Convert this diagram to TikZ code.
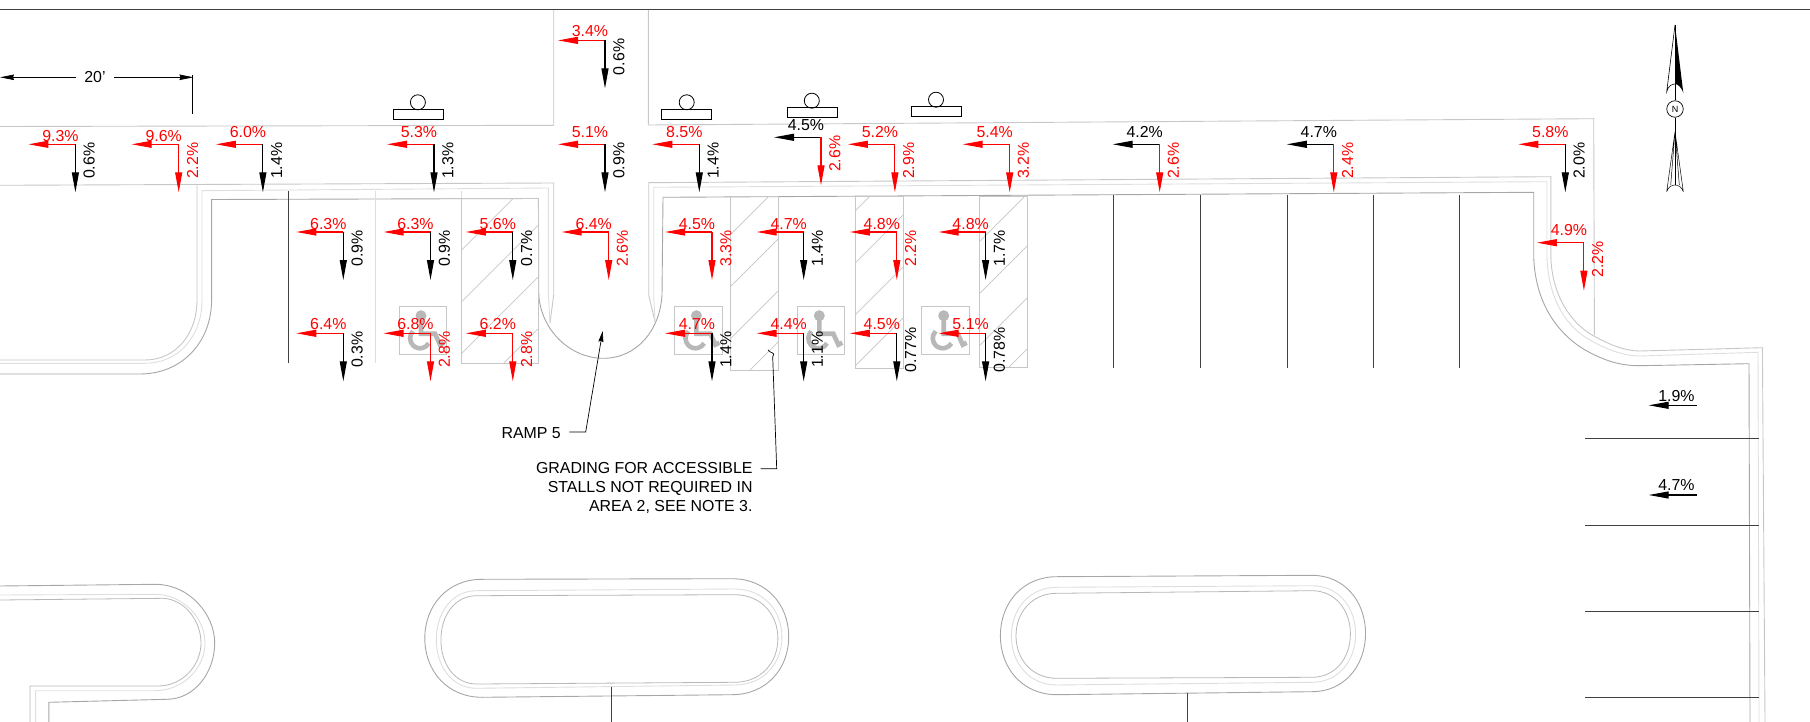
\documentclass[tikz,border=0pt]{standalone}
\usepackage{fontspec}
\setmainfont{Liberation Sans}
\usetikzlibrary{arrows.meta}

\newcommand{\slopemark}[8]{
  \coordinate (#8) at (#1,#2);
  \coordinate (#8h) at ({#1-47},#2);
  \coordinate (#8v) at (#1,{#2+48});
  \draw[slopearrow,#6] (#8) -- (#8h);
  \draw[slopearrow,#7] (#8) -- (#8v);
  \node[slopetext,text=#6] (#8a) at ({#1-15},{#2+#3}) {#4};
  \node[slopetext,text=#7,rotate=90] (#8b) at ({#1+13.8},{#2+16.5}) {#5};
}
\newcommand{\hatchstall}[5]{
  \begin{scope}
    \clip (#1,#2) rectangle (#3,#4);
    \foreach \cc in {#5} {\draw[hatchline] (#1,{\cc-#1}) -- (#3,{\cc-#3});}
  \end{scope}
  \draw[hatchline] (#1,#2) rectangle (#3,#4);
}
\newcommand{\islandline}[9]{
  \draw[#9] (#2,#5) -- (#3,#6)
    .. controls ({#3+0.6*(#4-#3)},#6) and (#4,{#6+0.22*(#8-#6)}) .. (#4,{(#6+#8)/2})
    .. controls (#4,{#8-0.22*(#8-#6)}) and ({#3+0.6*(#4-#3)},#8) .. (#3,#8)
    -- (#2,#7)
    .. controls ({#2-0.6*(#2-#1)},#7) and (#1,{#7-0.22*(#7-#5)}) .. (#1,{(#5+#7)/2})
    .. controls (#1,{#5+0.22*(#7-#5)}) and ({#2-0.6*(#2-#1)},#5) .. (#2,#5) -- cycle;
}

\begin{document}
\begin{tikzpicture}[x=1pt,y=-1pt,>={Stealth[length=20pt,width=7pt,inset=0pt]}]
\tikzstyle{slopearrow}=[->,line width=1.1pt]
\tikzstyle{slopetext}=[inner sep=0pt,font=\fontsize{15.9}{19}\selectfont]
\tikzstyle{plantext}=[inner sep=0pt,font=\fontsize{15.9}{19}\selectfont]
\tikzstyle{siteline}=[draw=black!22,line width=0.9pt]
\tikzstyle{curbdark}=[draw=black!35,line width=0.9pt]
\tikzstyle{curbthin}=[draw=black!28,line width=0.8pt]
\tikzstyle{curblight}=[draw=black!13,line width=0.9pt]
\tikzstyle{hatchline}=[draw=black!22,line width=0.7pt]
\tikzstyle{chairmark}=[draw=black!28,line width=4.6pt]
\tikzstyle{stallline}=[draw=black!75,line width=0.8pt]
\tikzstyle{leader}=[draw=black,line width=0.7pt]

\useasboundingbox (0,0) rectangle (1810,722);
\draw[draw=black!75,line width=1pt] (0,10) -- (1810,10);

\draw[siteline] (0,126.5) -- (553.7,125.3) -- (553.7,10);
\draw[siteline] (648.4,10) -- (648.4,125) -- (1593.7,118.7) -- (1594.4,335);

\draw[siteline] (0,360) -- (145,360) .. controls (175,360) and (197,335) .. (197,300)
  -- (197,185.3) (0,185.3) -- (553.7,183) -- (553.7,295) -- (550,323);
\draw[curblight] (0,363.3) -- (145,363.3) .. controls (178,363.3) and (202,337) .. (202,300)
  -- (202,190.7) -- (548.4,188) -- (548.4,295) -- (550,323);
\draw[curbdark] (0,374) -- (140,374) .. controls (182,374) and (211.6,342) .. (211.6,300)
  -- (211.6,199.5) -- (538.4,198.5) -- (538.8,295)
  .. controls (541,330) and (570,358.3) .. (603.3,358.3)
  .. controls (637,358.3) and (660,330) .. (662,295) -- (663,197.3) -- (1533.7,192.3) -- (1533.7,256.7)
  .. controls (1535,300) and (1555,332) .. (1585,350)
  .. controls (1605,361) and (1620,365.7) .. (1640,365.7) -- (1749,363.7) -- (1750,722);
\draw[siteline] (655,321.7) -- (648.7,295) -- (648.7,182.7) -- (1550.8,176.7) -- (1550.8,256.7)
  .. controls (1552,295) and (1570,322) .. (1592,335)
  .. controls (1610,345) and (1625,351) .. (1640,351) -- (1762.4,347.7) -- (1765,722);
\draw[curblight] (655,321.7) -- (653.7,295) -- (653.7,187.3) -- (1547,181.7) -- (1547,256.7)
  .. controls (1548,298) and (1566,327) .. (1590,340)
  .. controls (1607,350) and (1625,356) .. (1640,356) -- (1758,352.3) -- (1759,722);

\draw[stallline] (288.5,190.7) -- (288.5,363.3);
\draw[curblight] (375,190.7) -- (375,363.3);
\draw[curblight] (461.7,190.7) -- (461.7,198.3);
\foreach \sx in {1113.8,1200.2,1286.9,1373.4,1459.6} {\draw[stallline] (\sx,195) -- (\sx,367.7);}
\foreach \sy in {438.7,525,611,697.7} {\draw[stallline] (1585.4,\sy) -- (1759,\sy);}

\hatchstall{461.7}{198.3}{538.3}{363.3}{711.7,763.4,815,866.8}
\hatchstall{730}{196.7}{778.7}{370}{965,1017,1069,1120}
\hatchstall{855}{196.7}{903.3}{368.3}{1066,1118,1170,1221}
\hatchstall{979.8}{196.7}{1027.7}{367.3}{1221,1273,1325,1376}

\foreach \bx in {399,674.4,797.3,921.7} {
  \begin{scope}[shift={(\bx,306.7)}]
    \draw[hatchline] (0,0) rectangle (47.5,47.6);
    \fill[black!28] (22,9) circle (5.5);
    \draw[chairmark] (22,13) -- (22,27) -- (36,27) -- (41,38) -- (45,36);
    \draw[chairmark] (14,24.5) arc[start angle=225,end angle=30,radius=10];
  \end{scope}
}

\draw[curbdark] (0,586) -- (155,584.3) .. controls (190,584.3) and (214.7,615) .. (214.7,643)
  .. controls (214.7,672) and (195,699.3) .. (166.5,699.3) -- (48.8,702.3) -- (48.8,722);
\draw[curblight] (0,595) -- (155,594.3) .. controls (183,594.3) and (205,618) .. (205,643)
  .. controls (205,668) and (183,690.7) .. (155,690.7) -- (35.6,690.7) -- (35.6,722);
\draw[curbthin] (0,600) -- (163.6,598.3) .. controls (186,600) and (201,622) .. (201,643)
  .. controls (201,665) and (183,686) .. (158,686) -- (29.9,686) -- (29.9,722);

\islandline{424.8}{482}{732}{788.7}{579.3}{578.7}{697.3}{694.7}{curbdark}
\islandline{436.3}{476.5}{734.8}{781.9}{590.7}{589}{688.3}{685}{curblight}
\islandline{440.9}{476.5}{734.8}{777.9}{595.7}{594.7}{684}{682.3}{curbthin}
\islandline{1000.4}{1056.7}{1312}{1365.5}{576.7}{575.3}{694.7}{691.7}{curbdark}
\islandline{1011.4}{1056.7}{1312}{1355.6}{587.3}{585.7}{685}{682.3}{curblight}
\islandline{1016}{1056.7}{1312}{1350.4}{593.3}{590.7}{678.3}{677.3}{curbthin}
\draw[stallline] (611.4,686.7) -- (611.4,722);
\draw[stallline] (1187.3,693.3) -- (1187.3,722);

\foreach \rx/\ry/\cx/\cy [count=\i] in {392.6/110/417.9/102.3,661.4/110/686.7/102.3,786.6/108.3/811.8/100.7,911/107.3/936/99.7} {
  \node[draw=black,line width=0.8pt,minimum width=50pt,minimum height=10pt,inner sep=0pt,anchor=south west] (stop\i) at (\rx,{\ry+10}) {};
  \node[draw=black,line width=0.8pt,circle,minimum size=15pt,inner sep=0pt] (post\i) at (\cx,\cy) {};
}

\foreach \mx/\my/\dy/\htxt/\vtxt/\hcol/\vcol [count=\i] in {
  75.4/144.3/-8.3/9.3\%/0.6\%/red/black,
  178.7/144.3/-8.3/9.6\%/2.2\%/red/red,
  262.9/144.3/-12.3/6.0\%/1.4\%/red/black,
  434/144.3/-12.3/5.3\%/1.3\%/red/black,
  605/40.4/-9/3.4\%/0.6\%/red/black,
  605/144.3/-12.3/5.1\%/0.9\%/red/black,
  699.3/144.3/-12.3/8.5\%/1.4\%/red/black,
  821/137.3/-12.3/4.5\%/2.6\%/black/red,
  894.9/144.3/-12.3/5.2\%/2.9\%/red/red,
  1009.7/144.3/-12.3/5.4\%/3.2\%/red/red,
  1159.7/144.3/-12.3/4.2\%/2.6\%/black/red,
  1333.8/144.3/-12.3/4.7\%/2.4\%/black/red,
  1565.3/144.3/-12.3/5.8\%/2.0\%/red/black,
  1583.9/242.7/-12.7/4.9\%/2.2\%/red/red,
  343.3/232/-8/6.3\%/0.9\%/red/black,
  430.5/232/-8/6.3\%/0.9\%/red/black,
  512.8/232/-8/5.6\%/0.7\%/red/black,
  608.7/232/-8/6.4\%/2.6\%/red/red,
  712/232/-8/4.5\%/3.3\%/red/red,
  803.7/232/-8/4.7\%/1.4\%/red/black,
  896.8/232/-8/4.8\%/2.2\%/red/red,
  985.6/232/-8/4.8\%/1.7\%/red/black,
  343.3/333.3/-8.8/6.4\%/0.3\%/red/black,
  430.5/333.3/-8.8/6.8\%/2.8\%/red/red,
  512.8/333.3/-8.8/6.2\%/2.8\%/red/red,
  712/333.3/-8.8/4.7\%/1.4\%/red/black,
  803.7/333.3/-8.8/4.4\%/1.1\%/red/black,
  896.8/333.3/-8.8/4.5\%/0.77\%/red/black,
  985.6/333.3/-8.8/5.1\%/0.78\%/red/black} {
  \slopemark{\mx}{\my}{\dy}{\htxt}{\vtxt}{\hcol}{\vcol}{slope\i}
}

\foreach \ay/\lottxt [count=\i] in {405.3/1.9\%,495/4.7\%} {
  \coordinate (lotstart\i) at (1696.9,\ay);
  \coordinate (lotend\i) at (1648.7,\ay);
  \draw[slopearrow] (lotstart\i) -- (lotend\i);
  \node[slopetext] (lottext\i) at (1676.5,{\ay-9.6}) {\lottxt};
}

\node[plantext] (dimtext) at (95,77.3) {20'};
\coordinate (dimleft) at (0,77.3);
\coordinate (dimright) at (193.5,77.3);
\coordinate (dimtop) at (192.5,75);
\coordinate (dimbottom) at (192.5,114.3);
\draw[->,leader,>={Stealth[length=14pt,width=5.5pt,inset=1pt]}] ([xshift=-8pt]dimtext.west) -- (dimleft);
\draw[->,leader,>={Stealth[length=14pt,width=5.5pt,inset=1pt]}] ([xshift=8.5pt]dimtext.east) -- (dimright);
\draw[leader] (dimtop) -- (dimbottom);

\node[plantext,anchor=east] (ramptext) at (561,433.3) {RAMP 5};
\coordinate (rampbend) at (585.7,432);
\coordinate (ramptip) at (602.7,331);
\draw[->,leader,>={Stealth[length=11pt,width=5pt,inset=1pt]}] (569.3,432) -- (rampbend) -- (ramptip);

\node[plantext,anchor=north east,align=right] (gradetext) at (752.7,462.5) {GRADING FOR ACCESSIBLE\\STALLS NOT REQUIRED IN\\AREA 2, SEE NOTE 3.};
\coordinate (gradebend) at (776.7,468.7);
\coordinate (gradetip) at (772.7,356.7);
\coordinate (gradehook) at (768,350);
\draw[leader] (760.7,468.7) -- (gradebend) -- (gradetip)
  .. controls (776,352) and (771,354) .. (gradehook);

\node[draw=black,line width=0.7pt,circle,minimum size=16.5pt,inner sep=0pt,font=\fontsize{9}{10}\selectfont] (northmark) at (1675,109) {N};
\coordinate (northtip) at (1675,25);
\coordinate (southtip) at (1675,131.7);
\fill[black] (northtip) -- (1683.3,93) .. controls (1681,86) and (1677,84) .. (1675,84) -- cycle;
\draw[line width=0.6pt] (northtip) -- (1666.7,91.7) .. controls (1668,86) and (1672,84) .. (1675,84);
\draw[line width=0.6pt] (northtip) -- (northmark.north);
\draw[line width=0.6pt] (northmark.south) -- (1675,185);
\draw[line width=0.5pt] (southtip) -- (1666.7,191.7) (southtip) -- (1683.3,191.7)
  (southtip) -- (1670.7,185) (southtip) -- (1679.3,185)
  (1666.7,191.7) .. controls (1668,187) and (1672,185) .. (1675,185) .. controls (1678,185) and (1682,187) .. (1683.3,191.7);
\end{tikzpicture}
\end{document}
